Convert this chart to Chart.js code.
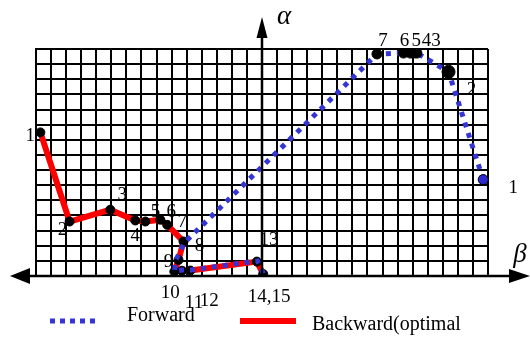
<!DOCTYPE html>
<html>
<head>
<meta charset="utf-8">
<script src="https://cdn.jsdelivr.net/npm/chart.js@4/dist/chart.umd.min.js"></script>
<style>
    body { margin: 0; background: #fff; }
    #wrap { width: 530px; height: 338px; }
</style>
</head>
<body>
<div id="wrap"><canvas id="chart" width="530" height="338"></canvas></div>
<script>
// forward pass (blue dotted)
const forwardBeta  = [29.68, 27.38, 25.28, 25.06, 24.84, 24.39, 22.63, 9.85, 9.25, 9.2, 9.7, 10.3, 14.7, 15.1];
const forwardAlpha = [6.37, 13.49, 14.73, 14.73, 14.73, 14.73, 14.67, 2.2, 1.0, 0.3, 0.4, 0.4, 1.0, 0.15];
const forwardLabels = ['1', '2', '3', '4', '5', '6', '7', '', '', '', '', '', '', ''];

// backward pass (red, optimal)
const backwardBeta  = [0.29, 2.23, 4.93, 6.59, 7.26, 8.25, 8.71, 9.79, 9.46, 9.18, 9.69, 10.24, 14.66, 15.08];
const backwardAlpha = [9.49, 3.60, 4.38, 3.67, 3.60, 3.72, 3.38, 2.28, 1.06, 0.29, 0.35, 0.36, 0.95, 0.13];
const backwardLabels = ['1', '2', '3', '4', '5', '6', '7', '8', '9', '10', '11', '12', '13', '14,15'];

const legendNames = ['Forward', 'Backward(optimal'];
const axisNames = ['β', 'α'];

const toPoints = (xs, ys) => xs.map((x, i) => ({ x: x, y: ys[i] }));

// where each number sits relative to its point
const forwardOffsets = [[30, 8], [23, 18], [19, -12], [13, -12], [6, -12], [1, -12], [6, -13]];
const backwardOffsets = [[-10, 4], [-7, 8], [12, -15], [0, 16], [10, -10], [11, -8], [15, -3],
    [16, 5], [-10, 2], [-4, 21], [12, 32], [19, 30], [12, -22], [6, 23]];

const serif = '"Liberation Serif", "DejaVu Serif", serif';

const decorations = {
    id: 'decorations',
    afterDatasetsDraw(chart) {
        const ctx = chart.ctx;
        const area = chart.chartArea;
        const xs = chart.scales.x;
        const ys = chart.scales.y;
        ctx.save();

        // axes with arrows
        const ax = xs.getPixelForValue(15);
        ctx.strokeStyle = '#000';
        ctx.fillStyle = '#000';
        ctx.lineWidth = 2.5;
        ctx.beginPath();
        ctx.moveTo(ax, area.bottom);
        ctx.lineTo(ax, area.top - 14);
        ctx.moveTo(area.left - 8, area.bottom);
        ctx.lineTo(area.right + 24, area.bottom);
        ctx.stroke();
        ctx.beginPath();
        ctx.moveTo(ax, area.top - 32);
        ctx.lineTo(ax - 5.5, area.top - 11);
        ctx.lineTo(ax + 5.5, area.top - 11);
        ctx.closePath();
        ctx.fill();
        ctx.beginPath();
        ctx.moveTo(area.left - 26, area.bottom);
        ctx.lineTo(area.left - 6, area.bottom - 8);
        ctx.lineTo(area.left - 6, area.bottom + 8);
        ctx.closePath();
        ctx.fill();
        ctx.beginPath();
        ctx.moveTo(area.right + 42, area.bottom);
        ctx.lineTo(area.right + 21, area.bottom - 7);
        ctx.lineTo(area.right + 21, area.bottom + 7);
        ctx.closePath();
        ctx.fill();

        ctx.font = 'italic 27px ' + serif;
        ctx.textAlign = 'center';
        ctx.textBaseline = 'middle';
        ctx.fillText(axisNames[1], ax + 22, area.top - 32);
        ctx.fillText(axisNames[0], area.right + 32, area.bottom - 21);

        // point numbers
        ctx.font = '19px ' + serif;
        const drawLabels = (idx, labels, offsets) => {
            const meta = chart.getDatasetMeta(idx);
            labels.forEach((t, i) => {
                if (!t) return;
                const p = meta.data[i];
                ctx.fillText(t, p.x + offsets[i][0], p.y + offsets[i][1]);
            });
        };
        drawLabels(0, forwardLabels, forwardOffsets);
        drawLabels(1, backwardLabels, backwardOffsets);

        // legend
        ctx.lineCap = 'butt';
        ctx.strokeStyle = '#3535d6';
        ctx.lineWidth = 5;
        ctx.setLineDash([5, 5]);
        ctx.beginPath();
        ctx.moveTo(50, 321);
        ctx.lineTo(99, 321);
        ctx.stroke();
        ctx.setLineDash([]);
        ctx.strokeStyle = '#ff0000';
        ctx.lineWidth = 6;
        ctx.beginPath();
        ctx.moveTo(240, 321);
        ctx.lineTo(296, 321);
        ctx.stroke();
        ctx.font = '20px ' + serif;
        ctx.textAlign = 'left';
        ctx.fillStyle = '#000';
        ctx.fillText(legendNames[0], 127, 316);
        ctx.fillText(legendNames[1], 312, 325);
        ctx.restore();
    }
};

new Chart(document.getElementById('chart'), {
    type: 'scatter',
    data: {
        datasets: [{
            label: legendNames[0],
            data: toPoints(forwardBeta, forwardAlpha),
            showLine: true,
            borderColor: '#3535d6',
            borderWidth: 5,
            borderDash: [5, 6],
            borderCapStyle: 'butt',
            pointRadius: c => c.dataIndex < 7 ? (c.dataIndex === 1 ? 6.5 : 5) : 0,
            pointBackgroundColor: c => c.dataIndex === 0 ? '#2a2ad0' : '#000',
            pointBorderColor: '#000',
            pointBorderWidth: 1
        }, {
            label: legendNames[1],
            data: toPoints(backwardBeta, backwardAlpha),
            showLine: true,
            borderColor: '#ff0000',
            borderWidth: 6,
            borderJoinStyle: 'round',
            pointRadius: 4.5,
            pointBackgroundColor: '#000',
            pointBorderColor: '#000',
            pointBorderWidth: 1
        }]
    },
    options: {
        responsive: false,
        animation: false,
        layout: { padding: { left: 36, top: 49, right: 42, bottom: 62 } },
        plugins: { legend: { display: false }, tooltip: { enabled: false } },
        scales: {
            x: {
                type: 'linear', min: 0, max: 30,
                ticks: { display: false, stepSize: 1 },
                grid: { color: '#000', lineWidth: 2, drawTicks: false },
                border: { color: '#000', width: 2 }
            },
            y: {
                type: 'linear', min: 0, max: 15,
                ticks: { display: false, stepSize: 1 },
                grid: { color: '#000', lineWidth: 2, drawTicks: false },
                border: { color: '#000', width: 2 }
            }
        }
    },
    plugins: [decorations]
});
</script>
</body>
</html>
